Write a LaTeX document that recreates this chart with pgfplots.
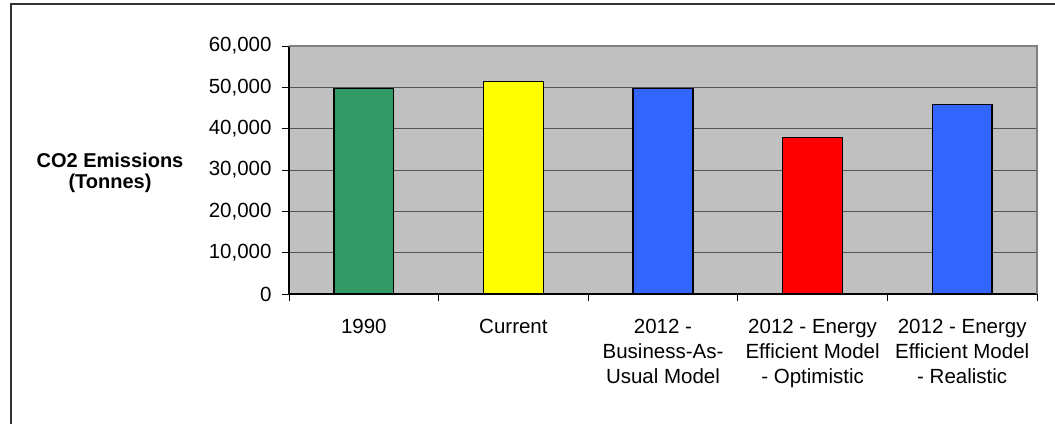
\documentclass[border=0pt]{standalone}
\usepackage{pgfplots}
\pgfplotsset{compat=1.18}
\usepackage{fontspec}
\setmainfont{Liberation Sans}

\definecolor{plotgray}{HTML}{C0C0C0}
\definecolor{gridgray}{HTML}{555555}
\definecolor{bargreen}{HTML}{339966}
\definecolor{baryellow}{HTML}{FFFF00}
\definecolor{barblue}{HTML}{3366FF}
\definecolor{barred}{HTML}{FF0000}

\begin{document}
\begin{tikzpicture}[x=1bp,y=1bp,font=\fontsize{20bp}{25bp}\selectfont]
\useasboundingbox (0,0) rectangle (1055,423);
% chart frame
\draw[line width=1.6bp, color=black!80] (11,-20) -- (11,419) -- (1080,419);

\begin{axis}[
  at={(289bp,129bp)}, anchor=south west,
  scale only axis, width=748bp, height=248bp,
  xmin=-0.5, xmax=4.5, ymin=0, ymax=60000,
  axis lines=left, axis line style={-, line width=1.2bp, black},
  axis background/.style={fill=plotgray},
  ytick={0,10000,...,60000},
  scaled y ticks=false,
  ymajorgrids, grid style={gridgray, line width=0.9bp},
  xtick={-0.5,0.5,1.5,2.5,3.5,4.5},
  x tick label as interval,
  xticklabels={1990, Current, {2012 -\\Business-As-\\Usual Model},
    {2012 - Energy\\Efficient Model\\- Optimistic},
    {2012 - Energy\\Efficient Model\\- Realistic}},
  xticklabel style={align=center, anchor=north, yshift=-15bp},
  yticklabel style={xshift=-7bp},
  tick align=outside, major tick length=7bp,
  tick style={black, line width=1bp},
  /pgf/number format/assume math mode=true,
  yticklabel={\pgfmathprintnumber[fixed, 1000 sep={,}]{\tick}},
  every tick label/.append style={font=\fontsize{20.5bp}{25bp}\selectfont},
  after end axis/.code={
    \draw[color=black!50, line width=1.5bp]
      (rel axis cs:0,1) -- (rel axis cs:1,1) -- (rel axis cs:1,0);
  },
]
\addplot[ybar, bar width=0.4, bar shift=0, fill=bargreen, draw=black, line width=1.3bp]
  coordinates {(0,49800)};
\addplot[ybar, bar width=0.4, bar shift=0, fill=baryellow, draw=black, line width=1.3bp]
  coordinates {(1,51400)};
\addplot[ybar, bar width=0.4, bar shift=0, fill=barblue, draw=black, line width=1.3bp]
  coordinates {(2,49800)};
\addplot[ybar, bar width=0.4, bar shift=0, fill=barred, draw=black, line width=1.3bp]
  coordinates {(3,37900)};
\addplot[ybar, bar width=0.4, bar shift=0, fill=barblue, draw=black, line width=1.3bp]
  coordinates {(4,45800)};
\end{axis}

\node[align=center, font=\fontsize{20bp}{21bp}\selectfont\bfseries] at (110,250)
  {CO2 Emissions\\(Tonnes)};
\end{tikzpicture}
\end{document}
